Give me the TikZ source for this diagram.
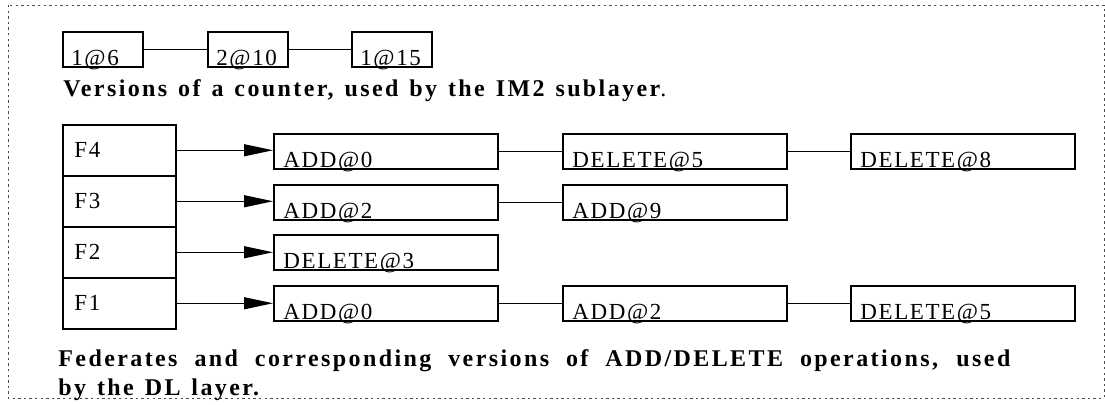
\documentclass[tikz,border=0pt]{standalone}
\usepackage{fontspec}
\setmainfont{Liberation Serif}
\newfontfamily\boxfont[LetterSpace=7]{Liberation Serif}
\newfontfamily\capfont[LetterSpace=10, WordSpace=1.3]{Liberation Serif}
\usetikzlibrary{arrows.meta}

\begin{document}
\begin{tikzpicture}[x=0.5pt, y=-0.5pt,
  frame/.style={draw=black!70, line width=0.5pt, dash pattern=on 1.2pt off 1.6pt},
  box/.style={draw, line width=0.75pt, inner sep=0pt, anchor=north west},
  cbox/.style={box, minimum width=40pt, minimum height=17.5pt},
  opbox/.style={box, minimum width=112pt, minimum height=17.5pt},
  fedbox/.style={box, minimum width=56.5pt, minimum height=25.5pt},
  boxtext/.style={inner sep=0pt, anchor=base west, font=\boxfont\fontsize{11.5pt}{13pt}\selectfont},
  captext/.style={inner sep=0pt, anchor=base west, font=\capfont\bfseries\fontsize{12pt}{14pt}\selectfont},
  link/.style={draw, line width=0.55pt},
  ptr/.style={draw, line width=0.55pt, -{Triangle[length=14.5pt, width=6pt]}}
]
\useasboundingbox (0,0) rectangle (1105,404);
\path[frame] (8,5) rectangle (1104,398);

% counter versions
\node[cbox] (c1) at (62,31) {};
\node[cbox] (c2) at (207,31) {};
\node[cbox] (c3) at (351,31) {};
\node[boxtext] (c1t) at ([xshift=4.5pt, yshift=1.25pt]c1.south west) {1@6};
\node[boxtext] (c2t) at ([xshift=4.5pt, yshift=1.25pt]c2.south west) {2@10};
\node[boxtext] (c3t) at ([xshift=4.5pt, yshift=1.25pt]c3.south west) {1@15};
\path[link] (c1.east) -- (c2.west);
\path[link] (c2.east) -- (c3.west);

\node[captext] (cap1) at (63,96) {Versions of a counter, used by the IM2 sublayer{\mdseries.}};

% federates
\node[fedbox] (f4) at (62,124) {};
\node[fedbox] (f3) at (62,175) {};
\node[fedbox] (f2) at (62,226) {};
\node[fedbox] (f1) at (62,277) {};
\foreach \f in {1,2,3,4}
  \node[boxtext] (f\f t) at ([xshift=6pt, yshift=-3.5pt]f\f.west) {F\f};

% operation versions
\node[opbox] (a41) at (273,133) {};
\node[opbox] (a42) at (562,133) {};
\node[opbox] (a43) at (850,133) {};
\node[opbox] (a31) at (273,184) {};
\node[opbox] (a32) at (562,184) {};
\node[opbox] (a21) at (273,234) {};
\node[opbox] (a11) at (273,285) {};
\node[opbox] (a12) at (562,285) {};
\node[opbox] (a13) at (850,285) {};

\node[boxtext] (a41t) at ([xshift=5pt, yshift=1.25pt]a41.south west) {ADD@0};
\node[boxtext] (a42t) at ([xshift=5pt, yshift=1.25pt]a42.south west) {DELETE@5};
\node[boxtext] (a43t) at ([xshift=5pt, yshift=1.25pt]a43.south west) {DELETE@8};
\node[boxtext] (a31t) at ([xshift=5pt, yshift=1.25pt]a31.south west) {ADD@2};
\node[boxtext] (a32t) at ([xshift=5pt, yshift=1.25pt]a32.south west) {ADD@9};
\node[boxtext] (a21t) at ([xshift=5pt, yshift=1.25pt]a21.south west) {DELETE@3};
\node[boxtext] (a11t) at ([xshift=5pt, yshift=1.25pt]a11.south west) {ADD@0};
\node[boxtext] (a12t) at ([xshift=5pt, yshift=1.25pt]a12.south west) {ADD@2};
\node[boxtext] (a13t) at ([xshift=5pt, yshift=1.25pt]a13.south west) {DELETE@5};

\path[ptr] (f4.east) -- (f4.east -| a41.west);
\path[ptr] (f3.east) -- (f3.east -| a31.west);
\path[ptr] (f2.east) -- (f2.east -| a21.west);
\path[ptr] (f1.east) -- (f1.east -| a11.west);

\path[link] (a41.east) -- (a42.west);
\path[link] (a42.east) -- (a43.west);
\path[link] (a31.east) -- (a32.west);
\path[link] (a11.east) -- (a12.west);
\path[link] (a12.east) -- (a13.west);

% two-line caption, first line set justified
\node[captext] (cap2a) at (58,366) {\makebox[476pt][s]{Federates and corresponding versions of ADD/DELETE operations, used}};
\node[captext] (cap2b) at (58,395) {by the DL layer.};
\end{tikzpicture}
\end{document}
